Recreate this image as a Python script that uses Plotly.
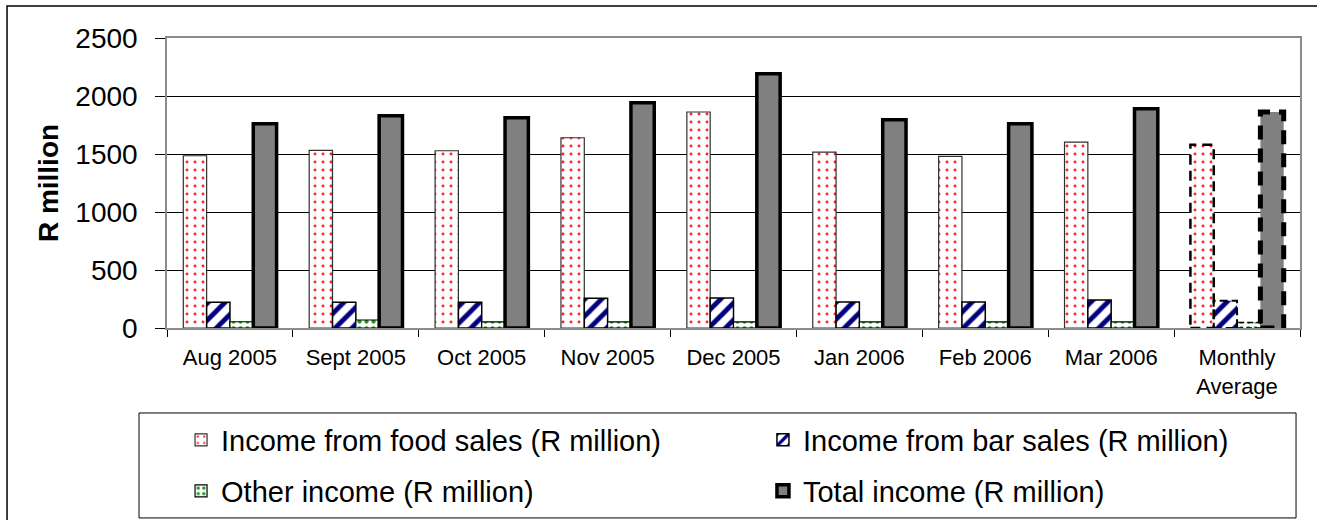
import plotly.graph_objects as go

# Monthly income figures, R million
categories = ["Aug 2005", "Sept 2005", "Oct 2005", "Nov 2005", "Dec 2005",
              "Jan 2006", "Feb 2006", "Mar 2006", "Monthly<br>Average"]
food_sales = [1485, 1531, 1528, 1640, 1862, 1517, 1480, 1603, 1580]
bar_sales = [221, 222, 222, 257, 259, 224, 225, 241, 235]
other_income = [54, 69, 52, 52, 52, 52, 52, 52, 48]
total_income = [1760, 1830, 1812, 1942, 2192, 1796, 1761, 1890, 1862]

series_names = ["Income from food sales (R million)",
                "Income from bar sales (R million)",
                "Other income (R million)",
                "Total income (R million)"]

FONT = "Liberation Sans, Arial, sans-serif"
BARGAP = 0.259
n = len(categories)
avg_idx = n - 1


def widths(w):
    # the average column gets a dashed outline drawn as a shape instead
    return [w] * (n - 1) + [0]


fig = go.Figure()
fig.add_trace(go.Bar(
    x=categories, y=food_sales, name=series_names[0], legend="legend",
    showlegend=True,
    marker=dict(color="white",
                line=dict(color="#303030", width=widths(1.2)),
                pattern=dict(shape=".", fgcolor="#ff2020", bgcolor="white",
                             fgopacity=1, size=8, solidity=0.1,
                             fillmode="overlay")),
))
fig.add_trace(go.Bar(
    x=categories, y=bar_sales, name=series_names[1], legend="legend2",
    showlegend=True,
    marker=dict(color="white",
                line=dict(color="black", width=widths(1.5)),
                pattern=dict(shape="/", fgcolor="#000080", bgcolor="white",
                             fgopacity=1, size=12, solidity=0.4,
                             fillmode="overlay")),
))
fig.add_trace(go.Bar(
    x=categories, y=other_income, name=series_names[2], legend="legend3",
    showlegend=True,
    marker=dict(color="white",
                line=dict(color="black", width=widths(1.2)),
                pattern=dict(shape=".", fgcolor="#1e9e1e", bgcolor="white",
                             fgopacity=1, size=7, solidity=0.3,
                             fillmode="overlay")),
))
fig.add_trace(go.Bar(
    x=categories, y=total_income, name=series_names[3], legend="legend4",
    showlegend=True,
    marker=dict(color="#808080",
                line=dict(color="black", width=widths(3.5))),
))

# dashed outlines for the monthly-average bars
group_w = 1 - BARGAP
slot = group_w / 4
dash_styles = [("10px,6px", 2.5), ("8px,4px", 2.0), ("6px,3px", 1.5), ("14px,9px", 5.0)]
avg_values = [food_sales[avg_idx], bar_sales[avg_idx],
              other_income[avg_idx], total_income[avg_idx]]
for i, (val, (dash, lw)) in enumerate(zip(avg_values, dash_styles)):
    x0 = avg_idx - group_w / 2 + i * slot
    fig.add_shape(type="rect", xref="x", yref="y",
                  x0=x0, x1=x0 + slot, y0=0, y1=val,
                  line=dict(color="black", width=lw, dash=dash),
                  fillcolor="rgba(0,0,0,0)", layer="above")

# legend frame and outer chart frame
fig.add_shape(type="rect", xref="paper", yref="paper",
              x0=-0.0247, x1=0.9965, y0=-0.655, y1=-0.293,
              line=dict(color="black", width=1), fillcolor="rgba(0,0,0,0)")
fig.add_shape(type="rect", xref="paper", yref="paper",
              x0=-0.1412, x1=1.03, y0=-0.70, y1=1.1103,
              line=dict(color="black", width=1.5), fillcolor="rgba(0,0,0,0)")

legend_common = dict(orientation="h", xanchor="left", yanchor="middle",
                     font=dict(family=FONT, size=29, color="black"),
                     bgcolor="rgba(0,0,0,0)", borderwidth=0)
col_x = [0.0124, 0.526]
row_y = [-0.386, -0.562]

fig.update_layout(
    width=1317, height=520,
    margin=dict(l=167, r=17, t=38, b=192, autoexpand=False),
    paper_bgcolor="white", plot_bgcolor="white",
    barmode="group", bargap=BARGAP, bargroupgap=0,
    showlegend=True,
    font=dict(family=FONT, color="black"),
    legend=dict(x=col_x[0], y=row_y[0], **legend_common),
    legend2=dict(x=col_x[1], y=row_y[0], **legend_common),
    legend3=dict(x=col_x[0], y=row_y[1], **legend_common),
    legend4=dict(x=col_x[1], y=row_y[1], **legend_common),
    xaxis=dict(
        type="category", tickson="boundaries",
        ticks="outside", ticklen=7, tickcolor="black", tickwidth=1,
        showline=True, linecolor="#8c8c8c", linewidth=1.5, mirror=True,
        showgrid=False,
        tickfont=dict(family=FONT, size=22, color="black"),
        ticklabelstandoff=9,
    ),
    yaxis=dict(
        range=[0, 2500], dtick=500,
        ticks="outside", ticklen=10, tickcolor="black", tickwidth=1,
        showline=True, linecolor="#8c8c8c", linewidth=1.5, mirror=True,
        showgrid=True, gridcolor="black", gridwidth=1, zeroline=False,
        tickfont=dict(family=FONT, size=28, color="black"),
        ticklabelstandoff=12,
        title=dict(text="<b>R million</b>", standoff=9,
                   font=dict(family=FONT, size=28, color="black")),
    ),
)

fig.write_html("out.html")
